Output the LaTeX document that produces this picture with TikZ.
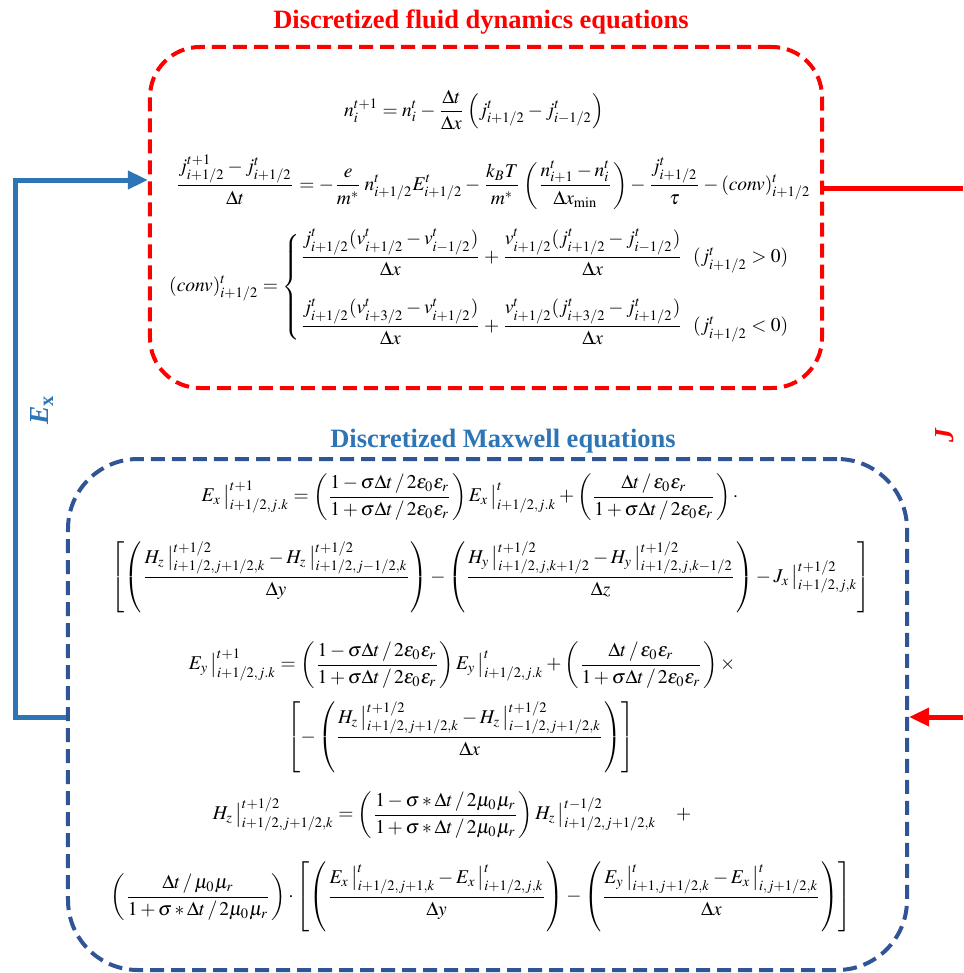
\documentclass[tikz,border=0pt]{standalone}
\usepackage{amsmath}
\IfFileExists{mathptmx.sty}{\usepackage{mathptmx}}{}
\usepackage[no-math]{fontspec}
\setmainfont{Liberation Serif}
\usetikzlibrary{arrows.meta}
\definecolor{fluidred}{RGB}{255,0,0}
\definecolor{boxblue}{RGB}{47,85,151}
\definecolor{linkblue}{RGB}{46,117,182}
\newcommand\fv[4]{#1_{#2}\,\big|^{#3}_{#4}}
\tikzset{
  eqn/.style={inner sep=0pt, font=\fontsize{7.8}{9.4}\selectfont},
  boxtitle/.style={inner sep=0pt, font=\fontsize{10.6}{12}\selectfont\bfseries},
  eqbox/.style={draw, line width=1.6pt, dash pattern=on 5.6pt off 2.8pt},
  feed/.style={line width=2pt, -{Triangle[length=8pt,width=7pt]}},
}
\begin{document}
\begin{tikzpicture}[x=0.4pt,y=-0.4pt]
  \useasboundingbox (0,0) rectangle (963,973);
  % fluid block
  \node[eqbox, fluidred, rounded corners=20pt, minimum width=268.8pt, minimum height=136.4pt] (fluid) at (486,217.5) {};
  \node[boxtitle, text=fluidred] (fluidtitle) at (481,22) {Discretized fluid dynamics equations};
  \node[eqn] (contin) at (474,110) {$\displaystyle n_i^{t+1} = n_i^t - \frac{\Delta t}{\Delta x}\left(j^t_{i+1/2} - j^t_{i-1/2}\right)$};
  \node[eqn] (moment) at (493,182) {$\displaystyle \frac{j^{t+1}_{i+1/2} - j^t_{i+1/2}}{\Delta t} = -\frac{e}{m^*}\, n^t_{i+1/2} E^t_{i+1/2} - \frac{k_B T}{m^*}\left(\frac{n^t_{i+1} - n^t_i}{\Delta x_{\min}}\right) - \frac{j^t_{i+1/2}}{\tau} - (conv)^t_{i+1/2}$};
  \node[eqn] (conv) at (490,287) {$\displaystyle (conv)^t_{i+1/2} = \begin{cases}
      \dfrac{j^t_{i+1/2}(v^t_{i+1/2}-v^t_{i-1/2})}{\Delta x} + \dfrac{v^t_{i+1/2}(j^t_{i+1/2}-j^t_{i-1/2})}{\Delta x}\ \ (j^t_{i+1/2}>0)\\[11pt]
      \dfrac{j^t_{i+1/2}(v^t_{i+3/2}-v^t_{i+1/2})}{\Delta x} + \dfrac{v^t_{i+1/2}(j^t_{i+3/2}-j^t_{i+1/2})}{\Delta x}\ \ (j^t_{i+1/2}<0)
    \end{cases}$};
  % Maxwell block
  \node[eqbox, boxblue, rounded corners=28pt, minimum width=335.6pt, minimum height=204.4pt] (maxwell) at (487.5,714.5) {};
  \node[boxtitle, text=linkblue] (maxtitle) at (503,441) {Discretized Maxwell equations};
  \node[eqn] (exa) at (470,497) {$\displaystyle \fv{E}{x}{t+1}{i+1/2,j.k} = \left(\frac{1-\sigma\Delta t\,/\,2\varepsilon_0\varepsilon_r}{1+\sigma\Delta t\,/\,2\varepsilon_0\varepsilon_r}\right)\fv{E}{x}{t}{i+1/2,j.k} + \left(\frac{\Delta t\,/\,\varepsilon_0\varepsilon_r}{1+\sigma\Delta t\,/\,2\varepsilon_0\varepsilon_r}\right)\cdot$};
  \node[eqn] (exb) at (491,577) {$\displaystyle \left[\left(\frac{\fv{H}{z}{t+1/2}{i+1/2,j+1/2,k} - \fv{H}{z}{t+1/2}{i+1/2,j-1/2,k}}{\Delta y}\right) - \left(\frac{\fv{H}{y}{t+1/2}{i+1/2,j,k+1/2} - \fv{H}{y}{t+1/2}{i+1/2,j,k-1/2}}{\Delta z}\right) - \fv{J}{x}{t+1/2}{i+1/2,j,k}\right]$};
  \node[eqn] (eya) at (462,665) {$\displaystyle \fv{E}{y}{t+1}{i+1/2,j.k} = \left(\frac{1-\sigma\Delta t\,/\,2\varepsilon_0\varepsilon_r}{1+\sigma\Delta t\,/\,2\varepsilon_0\varepsilon_r}\right)\fv{E}{y}{t}{i+1/2,j.k} + \left(\frac{\Delta t\,/\,\varepsilon_0\varepsilon_r}{1+\sigma\Delta t\,/\,2\varepsilon_0\varepsilon_r}\right)\times$};
  \node[eqn] (eyb) at (461,737) {$\displaystyle \left[-\left(\frac{\fv{H}{z}{t+1/2}{i+1/2,j+1/2,k} - \fv{H}{z}{t+1/2}{i-1/2,j+1/2,k}}{\Delta x}\right)\right]$};
  \node[eqn] (hza) at (452,815) {$\displaystyle \fv{H}{z}{t+1/2}{i+1/2,j+1/2,k} = \left(\frac{1-\sigma * \Delta t\,/\,2\mu_0\mu_r}{1+\sigma * \Delta t\,/\,2\mu_0\mu_r}\right)\fv{H}{z}{t-1/2}{i+1/2,j+1/2,k}\quad +$};
  \node[eqn] (hzb) at (481,897) {$\displaystyle \left(\frac{\Delta t\,/\,\mu_0\mu_r}{1+\sigma * \Delta t\,/\,2\mu_0\mu_r}\right)\cdot\left[\left(\frac{\fv{E}{x}{t}{i+1/2,j+1,k} - \fv{E}{x}{t}{i+1/2,j,k}}{\Delta y}\right) - \left(\frac{\fv{E}{y}{t}{i+1,j+1/2,k} - \fv{E}{x}{t}{i,j+1/2,k}}{\Delta x}\right)\right]$};
  % coupling
  \coordinate (exlow) at (15,717);
  \coordinate (exhigh) at (15,180);
  \coordinate (jout) at (963,188);
  \coordinate (jin) at (963,717);
  \draw[feed, linkblue] (maxwell.west |- exlow) -- (exlow) -- (exhigh) -- (fluid.west |- exhigh);
  \draw[line width=2pt, fluidred] (fluid.east |- jout) -- (jout);
  \draw[feed, fluidred] (jin) -- (maxwell.east |- jin);
  \node[rotate=90, text=linkblue, font=\fontsize{11}{12}\selectfont\bfseries] (exlabel) at (42,410) {\textit{E}\textsubscript{x}};
  \node[rotate=90, text=fluidred, font=\fontsize{11}{12}\selectfont\bfseries] (jlabel) at (945,435) {\textit{J}};
\end{tikzpicture}
\end{document}
